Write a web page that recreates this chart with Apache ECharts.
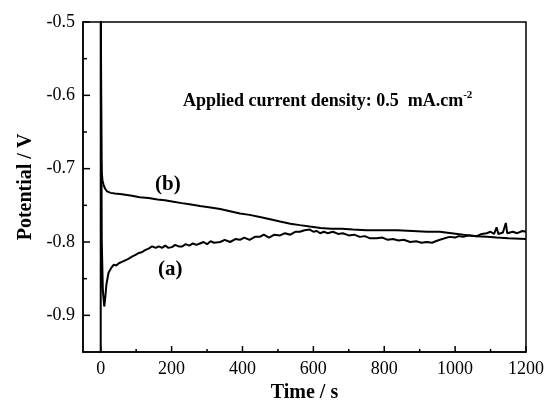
<!DOCTYPE html>
<html>
<head>
<meta charset="utf-8">
<script src="https://cdn.jsdelivr.net/npm/echarts@6/dist/echarts.min.js"></script>
<style>
  html, body { margin: 0; padding: 0; background: #fff; }
  #chart { width: 549px; height: 402px; }
</style>
</head>
<body>
<div id="chart"></div>
<script>
// curve (a): [time s, potential V]
var curveA = [
  [0, -1.0], [0, -0.45], [3, -0.80], [6, -0.866], [10, -0.888], [13, -0.875], [16, -0.858], [22, -0.842],
  [30, -0.835], [37, -0.831], [44, -0.832], [51, -0.829], [60, -0.827], [69, -0.825], [78, -0.823],
  [88, -0.820], [97, -0.818], [107, -0.815], [116, -0.814], [125, -0.811], [135, -0.809], [145, -0.806],
  [155, -0.808], [164, -0.806], [173, -0.808], [182, -0.805], [191, -0.808], [201, -0.807], [210, -0.804],
  [220, -0.806], [230, -0.806], [240, -0.803], [250, -0.805], [260, -0.802], [270, -0.804], [280, -0.802],
  [290, -0.800], [300, -0.803], [310, -0.799], [320, -0.801], [337, -0.800], [350, -0.797], [365, -0.800],
  [380, -0.796], [393, -0.797], [405, -0.794], [420, -0.797], [435, -0.793], [449, -0.793], [460, -0.790],
  [475, -0.794], [490, -0.790], [506, -0.791], [520, -0.788], [535, -0.790], [550, -0.786], [562, -0.786],
  [575, -0.784], [590, -0.783], [600, -0.786], [610, -0.785], [619, -0.788], [630, -0.786], [640, -0.788],
  [655, -0.786], [670, -0.789], [683, -0.788], [700, -0.791], [715, -0.790], [731, -0.793], [745, -0.792],
  [760, -0.795], [779, -0.795], [795, -0.794], [810, -0.797], [825, -0.796], [840, -0.798], [855, -0.797],
  [873, -0.800], [890, -0.799], [905, -0.801], [920, -0.800], [935, -0.801], [945, -0.799], [957, -0.797],
  [970, -0.795], [985, -0.793], [1000, -0.794], [1010, -0.792], [1023, -0.793], [1040, -0.791], [1061, -0.792],
  [1075, -0.789], [1089, -0.788], [1100, -0.786], [1110, -0.789], [1117, -0.780], [1122, -0.789], [1135, -0.787],
  [1140, -0.786], [1143, -0.774], [1147, -0.788], [1163, -0.786], [1175, -0.788], [1190, -0.785], [1200, -0.786]
];
// curve (b)
var curveB = [
  [0, -0.30], [1, -0.60], [2, -0.69], [3, -0.706], [5, -0.716], [8, -0.722], [12, -0.727], [18, -0.731],
  [28, -0.733], [40, -0.734], [60, -0.735], [88, -0.737], [110, -0.739], [135, -0.740], [160, -0.742],
  [181, -0.743], [205, -0.745], [229, -0.747], [255, -0.749], [280, -0.751], [310, -0.753], [337, -0.755],
  [365, -0.758], [393, -0.761], [420, -0.763], [449, -0.766], [478, -0.769], [506, -0.772], [535, -0.775],
  [562, -0.777], [590, -0.779], [620, -0.781], [650, -0.782], [680, -0.782], [712, -0.783], [750, -0.784],
  [790, -0.784], [836, -0.784], [880, -0.785], [920, -0.786], [957, -0.786], [990, -0.788], [1023, -0.790],
  [1060, -0.792], [1090, -0.793], [1117, -0.794], [1150, -0.795], [1200, -0.796]
];
var xMin = -50, xMax = 1200;
var yMin = -0.95, yMax = -0.5;
var xMajorTicks = [0, 200, 400, 600, 800, 1000, 1200];
var xMinorTicks = [100, 300, 500, 700, 900, 1100];
var yMajorTicks = [-0.9, -0.8, -0.7, -0.6, -0.5];
var yMinorTicks = [-0.85, -0.75, -0.65, -0.55];

var serif = 'Liberation Serif';

// inward tick marks, placed through the axis scales
function xTickSeries(values, len) {
  return {
    type: 'custom', silent: true, z: 5, clip: false,
    data: values.map(function (v) { return [v, yMin]; }),
    renderItem: function (params, api) {
      var p = api.coord([api.value(0), api.value(1)]);
      return { type: 'line', shape: { x1: p[0], y1: p[1], x2: p[0], y2: p[1] - len }, style: { stroke: '#000', lineWidth: 1.5 } };
    }
  };
}
function yTickSeries(values, len) {
  return {
    type: 'custom', silent: true, z: 5, clip: false,
    data: values.map(function (v) { return [xMin, v]; }),
    renderItem: function (params, api) {
      var p = api.coord([api.value(0), api.value(1)]);
      return { type: 'line', shape: { x1: p[0], y1: p[1], x2: p[0] + len, y2: p[1] }, style: { stroke: '#000', lineWidth: 1.5 } };
    }
  };
}

var myChart = echarts.init(document.getElementById('chart'));
myChart.setOption({
  animation: false,
  grid: {
    left: 83, right: 23, top: 22, bottom: 50,
    outerBoundsMode: 'none', containLabel: false,
    show: true, borderColor: '#000', borderWidth: 1.5
  },
  xAxis: {
    type: 'value', min: xMin, max: xMax,
    name: 'Time / s', nameLocation: 'middle', nameGap: 29,
    nameTextStyle: { fontFamily: serif, fontWeight: 'bold', fontSize: 20, color: '#000' },
    axisLine: { show: true, onZero: false, lineStyle: { color: '#000', width: 1.5 } },
    axisTick: { show: false },
    axisLabel: {
      customValues: xMajorTicks, fontFamily: serif, fontSize: 18, color: '#000', margin: 8,
      formatter: function (v) { return String(v); }
    },
    splitLine: { show: false }
  },
  yAxis: {
    type: 'value', min: yMin, max: yMax,
    name: 'Potential / V', nameLocation: 'middle', nameGap: 46,
    nameTextStyle: { fontFamily: serif, fontWeight: 'bold', fontSize: 20, color: '#000' },
    axisLine: { show: true, onZero: false, lineStyle: { color: '#000', width: 1.5 } },
    axisTick: { show: false },
    axisLabel: {
      customValues: yMajorTicks, fontFamily: serif, fontSize: 18, color: '#000', margin: 8,
      formatter: function (v) { return v.toFixed(1); }
    },
    splitLine: { show: false }
  },
  graphic: [
    { type: 'text', left: 155, top: 174, style: { text: '(b)', font: 'bold 21px "Liberation Serif"', fill: '#000' } },
    { type: 'text', left: 158, top: 259, style: { text: '(a)', font: 'bold 21px "Liberation Serif"', fill: '#000' } },
    {
      type: 'text', left: 183, top: 90,
      style: {
        text: '{m|Applied current density: 0.5  mA.cm}{s|-2}',
        rich: {
          m: { fontFamily: serif, fontWeight: 'bold', fontSize: 18, lineHeight: 22, fill: '#000' },
          s: { fontFamily: serif, fontWeight: 'bold', fontSize: 11, verticalAlign: 'top', fill: '#000' }
        }
      }
    }
  ],
  series: [
    {
      name: '(a)', type: 'line', data: curveA,
      showSymbol: false, lineStyle: { color: '#000', width: 2 }
    },
    {
      name: '(b)', type: 'line', data: curveB,
      showSymbol: false, lineStyle: { color: '#000', width: 2 }
    },
    xTickSeries(xMajorTicks, 6),
    xTickSeries(xMinorTicks, 3),
    yTickSeries(yMajorTicks, 7),
    yTickSeries(yMinorTicks, 4)
  ]
});
</script>
</body>
</html>
